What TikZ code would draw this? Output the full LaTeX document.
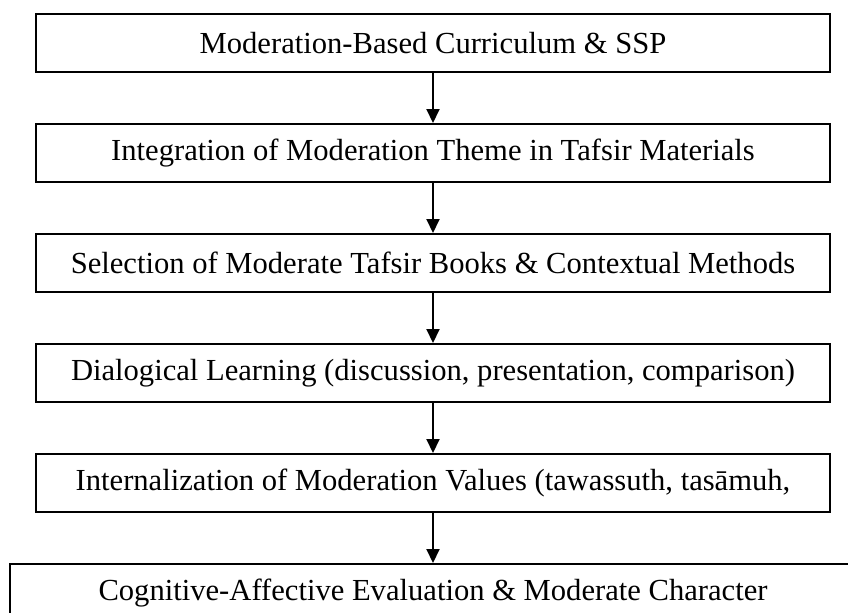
\documentclass[tikz,border=0pt]{standalone}
\usepackage{fontspec}
\setmainfont{Liberation Serif}
\usetikzlibrary{arrows.meta, positioning}
\tikzset{
  stage/.style={rectangle, draw=black, line width=1pt, minimum width=397pt, minimum height=29pt, align=center, inner sep=0pt, font=\fontsize{15.3}{18}\selectfont},
  outcome/.style={stage, minimum width=423pt},
  arrow/.style={-{Triangle[length=7pt, width=6.5pt]}, draw=black, line width=1pt},
}

\begin{document}
\begin{tikzpicture}[x=0.5pt, y=-0.5pt, node distance=25pt]
  \useasboundingbox (0,0) rectangle (848,612);

  % ---- Stages ----
  \node (curric) [stage] at (433,43) {Moderation-Based Curriculum \& SSP};
  \node (integr) [stage, below=of curric] {Integration of Moderation Theme in Tafsir Materials};
  \node (select) [stage, below=of integr] {Selection of Moderate Tafsir Books \& Contextual Methods};
  \node (dialog) [stage, below=of select] {Dialogical Learning (discussion, presentation, comparison)};
  \node (intern) [stage, below=of dialog] {Internalization of Moderation Values (tawassuth, tasāmuh,};

  % ---- Outcome ----
  \node (evalc) [outcome, below=of intern] {Cognitive-Affective Evaluation \& Moderate Character};

  % ---- Arrows ----
  \draw [arrow] (curric) -- (integr);
  \draw [arrow] (integr) -- (select);
  \draw [arrow] (select) -- (dialog);
  \draw [arrow] (dialog) -- (intern);
  \draw [arrow] (intern) -- (evalc);

\end{tikzpicture}
\end{document}
